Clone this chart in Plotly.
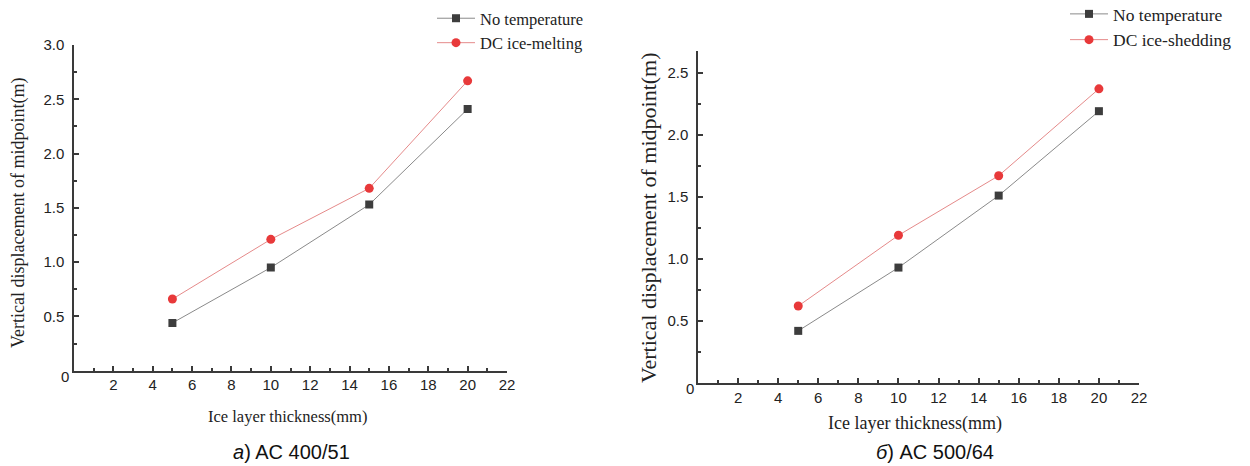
import plotly.graph_objects as go

# ---------------- data ----------------
thickness = [5, 10, 15, 20]
a_no_temp = [0.44, 0.95, 1.53, 2.41]
a_dc_melt = [0.66, 1.21, 1.68, 2.67]
b_no_temp = [0.42, 0.93, 1.51, 2.19]
b_dc_shed = [0.62, 1.19, 1.67, 2.37]

x_major = [2, 4, 6, 8, 10, 12, 14, 16, 18, 20, 22]
x_minor = [1, 3, 5, 7, 9, 11, 13, 15, 17, 19, 21]
a_y_major = [0.5, 1.0, 1.5, 2.0, 2.5, 3.0]
a_y_minor = [0.25, 0.75, 1.25, 1.75, 2.25, 2.75]
b_y_major = [0.5, 1.0, 1.5, 2.0, 2.5]
b_y_minor = [0.25, 0.75, 1.25, 1.75, 2.25]

names_a = ["No temperature", "DC ice-melting"]
names_b = ["No temperature", "DC ice-shedding"]
y_title = "Vertical displacement of midpoint(m)"
x_title = "Ice layer thickness(mm)"

SERIF = "Liberation Serif, Times New Roman, serif"
SANS = "Liberation Sans, Arial, sans-serif"
AX = "#3a3a3a"
GRAY_M = "#3d3d3d"
RED_M = "#e8393a"

fig = go.Figure()

def add_pair(xa, ya, y1, y2, names, legend):
    fig.add_trace(go.Scatter(
        x=thickness, y=y1, name=names[0], xaxis=xa, yaxis=ya, legend=legend,
        mode="lines+markers",
        line=dict(color="#8a8a8a", width=1),
        marker=dict(symbol="square", size=8, color=GRAY_M)))
    fig.add_trace(go.Scatter(
        x=thickness, y=y2, name=names[1], xaxis=xa, yaxis=ya, legend=legend,
        mode="lines+markers",
        line=dict(color="#e58a8a", width=1),
        marker=dict(symbol="circle", size=9, color=RED_M)))

add_pair("x", "y", a_no_temp, a_dc_melt, names_a, "legend")
add_pair("x2", "y2", b_no_temp, b_dc_shed, names_b, "legend2")

def xaxis(domain, anchor):
    return dict(domain=domain, anchor=anchor, range=[0, 22], automargin=False,
                tickmode="array", tickvals=x_major,
                ticktext=[str(v) for v in x_major],
                ticks="inside", ticklen=5, tickwidth=1.5, tickcolor=AX,
                minor=dict(tickmode="array", tickvals=x_minor, ticks="inside",
                           ticklen=3, tickwidth=1.5, tickcolor=AX),
                showline=True, linecolor=AX, linewidth=1.5,
                showgrid=False, zeroline=False,
                tickfont=dict(family=SANS, size=15, color="#222"))

def yaxis(domain, anchor, rng, major, minor):
    return dict(domain=domain, anchor=anchor, range=rng, automargin=False,
                tickmode="array", tickvals=major,
                ticktext=["%.1f" % v for v in major],
                ticks="inside", ticklen=5, tickwidth=1.5, tickcolor=AX,
                minor=dict(tickmode="array", tickvals=minor, ticks="inside",
                           ticklen=3, tickwidth=1.5, tickcolor=AX),
                showline=True, linecolor=AX, linewidth=1.5,
                showgrid=False, zeroline=False, ticklabelstandoff=5,
                tickfont=dict(family=SANS, size=15, color="#222"))

fig.update_layout(
    width=1250, height=466,
    margin=dict(l=0, r=0, t=0, b=0, autoexpand=False),
    paper_bgcolor="white", plot_bgcolor="white",
    xaxis=xaxis([0.0592, 0.4056], "y"),
    yaxis=yaxis([0.2045, 0.9034], "x", [0, 3.0], a_y_major, a_y_minor),
    xaxis2=xaxis([0.5584, 0.9112], "y2"),
    yaxis2=yaxis([0.1781, 0.8906], "x2", [0, 2.675], b_y_major, b_y_minor),
    legend=dict(x=432 / 1250, y=1 - 1 / 466, xanchor="left", yanchor="top",
                bgcolor="rgba(0,0,0,0)", tracegroupgap=0, itemwidth=38,
                font=dict(family=SERIF, size=16.5, color="#222")),
    legend2=dict(x=1065 / 1250, y=1 + 4 / 466, xanchor="left", yanchor="top",
                 bgcolor="rgba(0,0,0,0)", tracegroupgap=0, itemwidth=38,
                 font=dict(family=SERIF, size=17.5, color="#222")),
)

def A(text, x, y, size, family, angle=0, color="#222"):
    return dict(text=text, x=x / 1250, y=1 - y / 466, xref="paper", yref="paper",
                xanchor="center", yanchor="middle", textangle=angle,
                showarrow=False, font=dict(family=family, size=size, color=color))

ann = [
    A(y_title, 18, 213, 18, SERIF, -90),
    A(y_title, 648, 218, 22, SERIF, -90),
    A(x_title, 287, 416, 16.5, SERIF),
    A(x_title, 915, 423, 18, SERIF),
    A("0", 65, 376, 15, SANS),
    A("0", 690, 388, 15, SANS),
    A("<i>a</i>) AC 400/51", 291, 452, 20, SANS, color="#111"),
    A("<i>б</i>) AC 500/64", 935, 452, 20, SANS, color="#111"),
]
fig.update_layout(annotations=ann)

fig.write_html("out.html")
